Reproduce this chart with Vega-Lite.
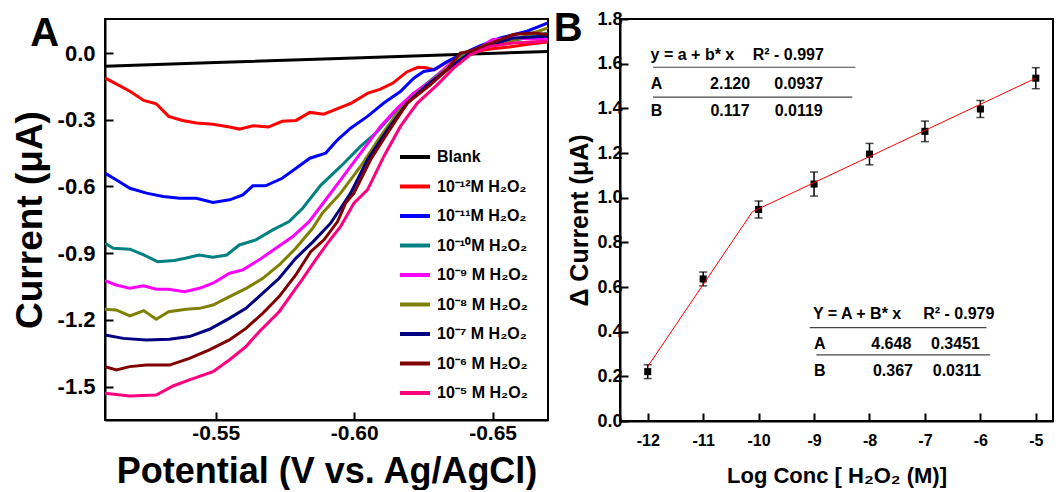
{
"$schema": "https://vega.github.io/schema/vega-lite/v6.json",
"padding": {"left": 10, "top": 8, "right": 0, "bottom": 0},
"background": "white",
"spacing": 3,
"config": {"font": "Liberation Sans", "view": {"stroke": "black", "strokeWidth": 2}},
"resolve": {"scale": {"color": "independent"}, "legend": {"color": "independent"}},
"datasets": {
"curves": [
{"s":"Blank","v":-0.51,"i":-0.06},{"s":"Blank","v":-0.55,"i":-0.043},{"s":"Blank","v":-0.6,"i":-0.022},{"s":"Blank","v":-0.64,"i":-0.006},{"s":"Blank","v":-0.67,"i":0.007},
{"s":"10⁻¹²M H₂O₂","v":-0.51,"i":-0.112},{"s":"10⁻¹²M H₂O₂","v":-0.519,"i":-0.172},{"s":"10⁻¹²M H₂O₂","v":-0.524,"i":-0.213},{"s":"10⁻¹²M H₂O₂","v":-0.5285,"i":-0.228},{"s":"10⁻¹²M H₂O₂","v":-0.533,"i":-0.285},{"s":"10⁻¹²M H₂O₂","v":-0.538,"i":-0.303},{"s":"10⁻¹²M H₂O₂","v":-0.543,"i":-0.315},{"s":"10⁻¹²M H₂O₂","v":-0.549,"i":-0.32},{"s":"10⁻¹²M H₂O₂","v":-0.555,"i":-0.333},{"s":"10⁻¹²M H₂O₂","v":-0.5585,"i":-0.342},{"s":"10⁻¹²M H₂O₂","v":-0.5635,"i":-0.327},{"s":"10⁻¹²M H₂O₂","v":-0.569,"i":-0.333},{"s":"10⁻¹²M H₂O₂","v":-0.574,"i":-0.307},{"s":"10⁻¹²M H₂O₂","v":-0.579,"i":-0.303},{"s":"10⁻¹²M H₂O₂","v":-0.584,"i":-0.267},{"s":"10⁻¹²M H₂O₂","v":-0.589,"i":-0.275},{"s":"10⁻¹²M H₂O₂","v":-0.594,"i":-0.25},{"s":"10⁻¹²M H₂O₂","v":-0.599,"i":-0.225},{"s":"10⁻¹²M H₂O₂","v":-0.605,"i":-0.18},{"s":"10⁻¹²M H₂O₂","v":-0.6095,"i":-0.162},{"s":"10⁻¹²M H₂O₂","v":-0.614,"i":-0.135},{"s":"10⁻¹²M H₂O₂","v":-0.619,"i":-0.085},{"s":"10⁻¹²M H₂O₂","v":-0.623,"i":-0.064},{"s":"10⁻¹²M H₂O₂","v":-0.626,"i":-0.066},{"s":"10⁻¹²M H₂O₂","v":-0.629,"i":-0.076},{"s":"10⁻¹²M H₂O₂","v":-0.633,"i":-0.045},{"s":"10⁻¹²M H₂O₂","v":-0.638,"i":-0.014},{"s":"10⁻¹²M H₂O₂","v":-0.643,"i":0.004},{"s":"10⁻¹²M H₂O₂","v":-0.649,"i":0.018},{"s":"10⁻¹²M H₂O₂","v":-0.656,"i":0.027},{"s":"10⁻¹²M H₂O₂","v":-0.6635,"i":0.04},{"s":"10⁻¹²M H₂O₂","v":-0.67,"i":0.05},
{"s":"10⁻¹¹M H₂O₂","v":-0.51,"i":-0.54},{"s":"10⁻¹¹M H₂O₂","v":-0.514,"i":-0.57},{"s":"10⁻¹¹M H₂O₂","v":-0.519,"i":-0.608},{"s":"10⁻¹¹M H₂O₂","v":-0.525,"i":-0.63},{"s":"10⁻¹¹M H₂O₂","v":-0.531,"i":-0.645},{"s":"10⁻¹¹M H₂O₂","v":-0.537,"i":-0.653},{"s":"10⁻¹¹M H₂O₂","v":-0.543,"i":-0.653},{"s":"10⁻¹¹M H₂O₂","v":-0.549,"i":-0.672},{"s":"10⁻¹¹M H₂O₂","v":-0.555,"i":-0.66},{"s":"10⁻¹¹M H₂O₂","v":-0.5598,"i":-0.638},{"s":"10⁻¹¹M H₂O₂","v":-0.5634,"i":-0.597},{"s":"10⁻¹¹M H₂O₂","v":-0.568,"i":-0.597},{"s":"10⁻¹¹M H₂O₂","v":-0.574,"i":-0.563},{"s":"10⁻¹¹M H₂O₂","v":-0.579,"i":-0.518},{"s":"10⁻¹¹M H₂O₂","v":-0.584,"i":-0.473},{"s":"10⁻¹¹M H₂O₂","v":-0.5897,"i":-0.45},{"s":"10⁻¹¹M H₂O₂","v":-0.594,"i":-0.39},{"s":"10⁻¹¹M H₂O₂","v":-0.5987,"i":-0.338},{"s":"10⁻¹¹M H₂O₂","v":-0.6048,"i":-0.285},{"s":"10⁻¹¹M H₂O₂","v":-0.6107,"i":-0.225},{"s":"10⁻¹¹M H₂O₂","v":-0.6167,"i":-0.173},{"s":"10⁻¹¹M H₂O₂","v":-0.6215,"i":-0.113},{"s":"10⁻¹¹M H₂O₂","v":-0.6251,"i":-0.083},{"s":"10⁻¹¹M H₂O₂","v":-0.6287,"i":-0.075},{"s":"10⁻¹¹M H₂O₂","v":-0.6336,"i":-0.038},{"s":"10⁻¹¹M H₂O₂","v":-0.6383,"i":-0.008},{"s":"10⁻¹¹M H₂O₂","v":-0.645,"i":0.03},{"s":"10⁻¹¹M H₂O₂","v":-0.6527,"i":0.068},{"s":"10⁻¹¹M H₂O₂","v":-0.6624,"i":0.098},{"s":"10⁻¹¹M H₂O₂","v":-0.67,"i":0.135},
{"s":"10⁻¹⁰M H₂O₂","v":-0.51,"i":-0.855},{"s":"10⁻¹⁰M H₂O₂","v":-0.513,"i":-0.878},{"s":"10⁻¹⁰M H₂O₂","v":-0.519,"i":-0.882},{"s":"10⁻¹⁰M H₂O₂","v":-0.524,"i":-0.908},{"s":"10⁻¹⁰M H₂O₂","v":-0.529,"i":-0.938},{"s":"10⁻¹⁰M H₂O₂","v":-0.535,"i":-0.933},{"s":"10⁻¹⁰M H₂O₂","v":-0.539,"i":-0.923},{"s":"10⁻¹⁰M H₂O₂","v":-0.544,"i":-0.908},{"s":"10⁻¹⁰M H₂O₂","v":-0.549,"i":-0.918},{"s":"10⁻¹⁰M H₂O₂","v":-0.554,"i":-0.908},{"s":"10⁻¹⁰M H₂O₂","v":-0.5585,"i":-0.863},{"s":"10⁻¹⁰M H₂O₂","v":-0.5645,"i":-0.84},{"s":"10⁻¹⁰M H₂O₂","v":-0.5706,"i":-0.795},{"s":"10⁻¹⁰M H₂O₂","v":-0.5765,"i":-0.758},{"s":"10⁻¹⁰M H₂O₂","v":-0.5814,"i":-0.698},{"s":"10⁻¹⁰M H₂O₂","v":-0.5879,"i":-0.595},{"s":"10⁻¹⁰M H₂O₂","v":-0.5951,"i":-0.51},{"s":"10⁻¹⁰M H₂O₂","v":-0.6023,"i":-0.42},{"s":"10⁻¹⁰M H₂O₂","v":-0.6084,"i":-0.353},{"s":"10⁻¹⁰M H₂O₂","v":-0.6143,"i":-0.27},{"s":"10⁻¹⁰M H₂O₂","v":-0.6203,"i":-0.195},{"s":"10⁻¹⁰M H₂O₂","v":-0.6264,"i":-0.135},{"s":"10⁻¹⁰M H₂O₂","v":-0.6323,"i":-0.075},{"s":"10⁻¹⁰M H₂O₂","v":-0.6383,"i":-0.015},{"s":"10⁻¹⁰M H₂O₂","v":-0.6444,"i":0.015},{"s":"10⁻¹⁰M H₂O₂","v":-0.6527,"i":0.045},{"s":"10⁻¹⁰M H₂O₂","v":-0.6624,"i":0.068},{"s":"10⁻¹⁰M H₂O₂","v":-0.67,"i":0.09},
{"s":"10⁻⁹ M H₂O₂","v":-0.51,"i":-1.023},{"s":"10⁻⁹ M H₂O₂","v":-0.514,"i":-1.043},{"s":"10⁻⁹ M H₂O₂","v":-0.519,"i":-1.058},{"s":"10⁻⁹ M H₂O₂","v":-0.524,"i":-1.047},{"s":"10⁻⁹ M H₂O₂","v":-0.5285,"i":-1.062},{"s":"10⁻⁹ M H₂O₂","v":-0.533,"i":-1.062},{"s":"10⁻⁹ M H₂O₂","v":-0.5387,"i":-1.073},{"s":"10⁻⁹ M H₂O₂","v":-0.5441,"i":-1.058},{"s":"10⁻⁹ M H₂O₂","v":-0.549,"i":-1.035},{"s":"10⁻⁹ M H₂O₂","v":-0.555,"i":-0.99},{"s":"10⁻⁹ M H₂O₂","v":-0.5598,"i":-0.975},{"s":"10⁻⁹ M H₂O₂","v":-0.5657,"i":-0.93},{"s":"10⁻⁹ M H₂O₂","v":-0.5717,"i":-0.878},{"s":"10⁻⁹ M H₂O₂","v":-0.5778,"i":-0.825},{"s":"10⁻⁹ M H₂O₂","v":-0.5837,"i":-0.758},{"s":"10⁻⁹ M H₂O₂","v":-0.5885,"i":-0.68},{"s":"10⁻⁹ M H₂O₂","v":-0.5951,"i":-0.57},{"s":"10⁻⁹ M H₂O₂","v":-0.6023,"i":-0.45},{"s":"10⁻⁹ M H₂O₂","v":-0.6095,"i":-0.33},{"s":"10⁻⁹ M H₂O₂","v":-0.6156,"i":-0.248},{"s":"10⁻⁹ M H₂O₂","v":-0.6215,"i":-0.18},{"s":"10⁻⁹ M H₂O₂","v":-0.6275,"i":-0.128},{"s":"10⁻⁹ M H₂O₂","v":-0.6336,"i":-0.06},{"s":"10⁻⁹ M H₂O₂","v":-0.6395,"i":-0.015},{"s":"10⁻⁹ M H₂O₂","v":-0.6444,"i":0.015},{"s":"10⁻⁹ M H₂O₂","v":-0.6498,"i":0.06},{"s":"10⁻⁹ M H₂O₂","v":-0.6575,"i":0.068},{"s":"10⁻⁹ M H₂O₂","v":-0.67,"i":0.06},
{"s":"10⁻⁸ M H₂O₂","v":-0.51,"i":-1.152},{"s":"10⁻⁸ M H₂O₂","v":-0.514,"i":-1.155},{"s":"10⁻⁸ M H₂O₂","v":-0.519,"i":-1.182},{"s":"10⁻⁸ M H₂O₂","v":-0.524,"i":-1.158},{"s":"10⁻⁸ M H₂O₂","v":-0.5285,"i":-1.197},{"s":"10⁻⁸ M H₂O₂","v":-0.533,"i":-1.163},{"s":"10⁻⁸ M H₂O₂","v":-0.5393,"i":-1.152},{"s":"10⁻⁸ M H₂O₂","v":-0.5441,"i":-1.148},{"s":"10⁻⁸ M H₂O₂","v":-0.549,"i":-1.133},{"s":"10⁻⁸ M H₂O₂","v":-0.555,"i":-1.095},{"s":"10⁻⁸ M H₂O₂","v":-0.561,"i":-1.058},{"s":"10⁻⁸ M H₂O₂","v":-0.567,"i":-1.013},{"s":"10⁻⁸ M H₂O₂","v":-0.5729,"i":-0.953},{"s":"10⁻⁸ M H₂O₂","v":-0.5789,"i":-0.878},{"s":"10⁻⁸ M H₂O₂","v":-0.585,"i":-0.788},{"s":"10⁻⁸ M H₂O₂","v":-0.5885,"i":-0.72},{"s":"10⁻⁸ M H₂O₂","v":-0.5951,"i":-0.63},{"s":"10⁻⁸ M H₂O₂","v":-0.6023,"i":-0.51},{"s":"10⁻⁸ M H₂O₂","v":-0.6095,"i":-0.375},{"s":"10⁻⁸ M H₂O₂","v":-0.6156,"i":-0.27},{"s":"10⁻⁸ M H₂O₂","v":-0.6215,"i":-0.195},{"s":"10⁻⁸ M H₂O₂","v":-0.6287,"i":-0.12},{"s":"10⁻⁸ M H₂O₂","v":-0.6359,"i":-0.045},{"s":"10⁻⁸ M H₂O₂","v":-0.6419,"i":0.008},{"s":"10⁻⁸ M H₂O₂","v":-0.648,"i":0.038},{"s":"10⁻⁸ M H₂O₂","v":-0.6552,"i":0.045},{"s":"10⁻⁸ M H₂O₂","v":-0.6647,"i":0.09},{"s":"10⁻⁸ M H₂O₂","v":-0.67,"i":0.113},
{"s":"10⁻⁷ M H₂O₂","v":-0.51,"i":-1.268},{"s":"10⁻⁷ M H₂O₂","v":-0.5166,"i":-1.283},{"s":"10⁻⁷ M H₂O₂","v":-0.5249,"i":-1.29},{"s":"10⁻⁷ M H₂O₂","v":-0.5333,"i":-1.287},{"s":"10⁻⁷ M H₂O₂","v":-0.5405,"i":-1.275},{"s":"10⁻⁷ M H₂O₂","v":-0.5477,"i":-1.242},{"s":"10⁻⁷ M H₂O₂","v":-0.5549,"i":-1.193},{"s":"10⁻⁷ M H₂O₂","v":-0.5609,"i":-1.148},{"s":"10⁻⁷ M H₂O₂","v":-0.567,"i":-1.08},{"s":"10⁻⁷ M H₂O₂","v":-0.5729,"i":-1.013},{"s":"10⁻⁷ M H₂O₂","v":-0.5789,"i":-0.923},{"s":"10⁻⁷ M H₂O₂","v":-0.585,"i":-0.85},{"s":"10⁻⁷ M H₂O₂","v":-0.5915,"i":-0.765},{"s":"10⁻⁷ M H₂O₂","v":-0.5951,"i":-0.698},{"s":"10⁻⁷ M H₂O₂","v":-0.5987,"i":-0.63},{"s":"10⁻⁷ M H₂O₂","v":-0.6048,"i":-0.48},{"s":"10⁻⁷ M H₂O₂","v":-0.612,"i":-0.345},{"s":"10⁻⁷ M H₂O₂","v":-0.6192,"i":-0.225},{"s":"10⁻⁷ M H₂O₂","v":-0.6264,"i":-0.143},{"s":"10⁻⁷ M H₂O₂","v":-0.6336,"i":-0.075},{"s":"10⁻⁷ M H₂O₂","v":-0.6408,"i":-0.008},{"s":"10⁻⁷ M H₂O₂","v":-0.648,"i":0.03},{"s":"10⁻⁷ M H₂O₂","v":-0.6575,"i":0.068},{"s":"10⁻⁷ M H₂O₂","v":-0.67,"i":0.075},
{"s":"10⁻⁶ M H₂O₂","v":-0.51,"i":-1.41},{"s":"10⁻⁶ M H₂O₂","v":-0.5141,"i":-1.425},{"s":"10⁻⁶ M H₂O₂","v":-0.5189,"i":-1.41},{"s":"10⁻⁶ M H₂O₂","v":-0.5249,"i":-1.403},{"s":"10⁻⁶ M H₂O₂","v":-0.5333,"i":-1.403},{"s":"10⁻⁶ M H₂O₂","v":-0.5405,"i":-1.373},{"s":"10⁻⁶ M H₂O₂","v":-0.5477,"i":-1.335},{"s":"10⁻⁶ M H₂O₂","v":-0.5549,"i":-1.29},{"s":"10⁻⁶ M H₂O₂","v":-0.5609,"i":-1.238},{"s":"10⁻⁶ M H₂O₂","v":-0.567,"i":-1.17},{"s":"10⁻⁶ M H₂O₂","v":-0.5729,"i":-1.095},{"s":"10⁻⁶ M H₂O₂","v":-0.5789,"i":-0.998},{"s":"10⁻⁶ M H₂O₂","v":-0.5843,"i":-0.893},{"s":"10⁻⁶ M H₂O₂","v":-0.5891,"i":-0.84},{"s":"10⁻⁶ M H₂O₂","v":-0.594,"i":-0.758},{"s":"10⁻⁶ M H₂O₂","v":-0.5969,"i":-0.675},{"s":"10⁻⁶ M H₂O₂","v":-0.5999,"i":-0.63},{"s":"10⁻⁶ M H₂O₂","v":-0.6059,"i":-0.48},{"s":"10⁻⁶ M H₂O₂","v":-0.612,"i":-0.36},{"s":"10⁻⁶ M H₂O₂","v":-0.6192,"i":-0.225},{"s":"10⁻⁶ M H₂O₂","v":-0.6275,"i":-0.143},{"s":"10⁻⁶ M H₂O₂","v":-0.6336,"i":-0.075},{"s":"10⁻⁶ M H₂O₂","v":-0.6383,"i":0.0},{"s":"10⁻⁶ M H₂O₂","v":-0.6419,"i":0.008},{"s":"10⁻⁶ M H₂O₂","v":-0.648,"i":0.038},{"s":"10⁻⁶ M H₂O₂","v":-0.6575,"i":0.083},{"s":"10⁻⁶ M H₂O₂","v":-0.6647,"i":0.09},{"s":"10⁻⁶ M H₂O₂","v":-0.67,"i":0.083},
{"s":"10⁻⁵ M H₂O₂","v":-0.51,"i":-1.53},{"s":"10⁻⁵ M H₂O₂","v":-0.5189,"i":-1.542},{"s":"10⁻⁵ M H₂O₂","v":-0.5285,"i":-1.538},{"s":"10⁻⁵ M H₂O₂","v":-0.5346,"i":-1.497},{"s":"10⁻⁵ M H₂O₂","v":-0.5405,"i":-1.47},{"s":"10⁻⁵ M H₂O₂","v":-0.549,"i":-1.433},{"s":"10⁻⁵ M H₂O₂","v":-0.5549,"i":-1.38},{"s":"10⁻⁵ M H₂O₂","v":-0.5609,"i":-1.32},{"s":"10⁻⁵ M H₂O₂","v":-0.5657,"i":-1.253},{"s":"10⁻⁵ M H₂O₂","v":-0.5729,"i":-1.163},{"s":"10⁻⁵ M H₂O₂","v":-0.5789,"i":-1.058},{"s":"10⁻⁵ M H₂O₂","v":-0.5807,"i":-1.028},{"s":"10⁻⁵ M H₂O₂","v":-0.5856,"i":-0.938},{"s":"10⁻⁵ M H₂O₂","v":-0.5904,"i":-0.855},{"s":"10⁻⁵ M H₂O₂","v":-0.5951,"i":-0.78},{"s":"10⁻⁵ M H₂O₂","v":-0.5999,"i":-0.675},{"s":"10⁻⁵ M H₂O₂","v":-0.6048,"i":-0.615},{"s":"10⁻⁵ M H₂O₂","v":-0.6107,"i":-0.465},{"s":"10⁻⁵ M H₂O₂","v":-0.6167,"i":-0.33},{"s":"10⁻⁵ M H₂O₂","v":-0.6228,"i":-0.225},{"s":"10⁻⁵ M H₂O₂","v":-0.63,"i":-0.143},{"s":"10⁻⁵ M H₂O₂","v":-0.6359,"i":-0.068},{"s":"10⁻⁵ M H₂O₂","v":-0.6419,"i":-0.008},{"s":"10⁻⁵ M H₂O₂","v":-0.6491,"i":0.03},{"s":"10⁻⁵ M H₂O₂","v":-0.6575,"i":0.045},{"s":"10⁻⁵ M H₂O₂","v":-0.67,"i":0.053}
],
"letterA": [{"v": -0.4882, "i": 0.0855, "t": "A"}],
"letterB": [{"x": -13.434, "y": 1.755, "t": "B"}],
"pts": [
{"x":-12,"y":0.221,"e":0.031},{"x":-11,"y":0.636,"e":0.031},{"x":-10,"y":0.947,"e":0.038},{"x":-9,"y":1.061,"e":0.054},{"x":-8,"y":1.195,"e":0.048},{"x":-7,"y":1.297,"e":0.046},{"x":-6,"y":1.397,"e":0.038},{"x":-5,"y":1.535,"e":0.047}
],
"fit": [{"x":-12,"y":0.244},{"x":-10.112,"y":0.937},{"x":-5,"y":1.535}],
"tab": [
{"x":-11.194,"y":1.637,"t":"y = a + b* x"},{"x":-9.465,"y":1.637,"t":"R² - 0.997"},
{"x":-11.84,"y":1.509,"t":"A"},{"x":-10.515,"y":1.509,"t":"2.120"},{"x":-9.276,"y":1.509,"t":"0.0937"},
{"x":-11.84,"y":1.386,"t":"B"},{"x":-10.515,"y":1.386,"t":"0.117"},{"x":-9.276,"y":1.386,"t":"0.0119"},
{"x":-8.224,"y":0.478,"t":"Y = A + B* x"},{"x":-6.389,"y":0.478,"t":"R² - 0.979"},
{"x":-8.897,"y":0.347,"t":"A"},{"x":-7.607,"y":0.347,"t":"4.648"},{"x":-6.449,"y":0.347,"t":"0.3451"},
{"x":-8.897,"y":0.224,"t":"B"},{"x":-7.577,"y":0.224,"t":"0.367"},{"x":-6.425,"y":0.224,"t":"0.0311"}
],
"rules": [
{"x":-11.904,"x2":-8.253,"y":1.584},{"x":-11.904,"x2":-8.31,"y":1.4505},
{"x":-9.077,"x2":-5.89,"y":0.4185},{"x":-8.957,"x2":-5.824,"y":0.296}
]
},
"hconcat": [
{
"width": 443, "height": 401,
"layer": [
{"data": {"name": "curves"},
 "mark": {"type": "line", "strokeWidth": 3, "clip": true},
 "encoding": {
  "x": {"field": "v", "type": "quantitative",
        "scale": {"domain": [-0.67, -0.51], "reverse": true, "nice": false, "zero": false},
        "axis": {"values": [-0.55, -0.6, -0.65], "labelExpr": "replace(format(datum.value, '.2f'), '−', '-')",
                 "title": "Potential (V vs. Ag/AgCl)", "grid": false, "labelFlush": false, "labelOverlap": false,
                 "labelFontSize": 21, "labelFontWeight": "bold", "labelColor": "black", "labelPadding": 10,
                 "titleFontSize": 36, "titleFontWeight": "bold", "titleColor": "black", "titlePadding": 11,
                 "tickSize": -8, "tickWidth": 2, "tickColor": "black", "domainColor": "black", "domainWidth": 2}},
  "y": {"field": "i", "type": "quantitative",
        "scale": {"domain": [-1.65, 0.153], "nice": false, "zero": false},
        "axis": {"values": [0, -0.3, -0.6, -0.9, -1.2, -1.5], "labelExpr": "replace(format(datum.value, '.1f'), '−', '-')",
                 "title": "Current (μA)", "grid": false, "labelFlush": false, "labelOverlap": false,
                 "labelFontSize": 22, "labelFontWeight": "bold", "labelColor": "black", "labelPadding": 18,
                 "titleFontSize": 37, "titleFontWeight": "bold", "titleColor": "black", "titlePadding": 8,
                 "tickSize": -8, "tickWidth": 2, "tickColor": "black", "domainColor": "black", "domainWidth": 2}},
  "color": {"field": "s", "type": "nominal",
        "scale": {"domain": ["Blank","10⁻¹²M H₂O₂","10⁻¹¹M H₂O₂","10⁻¹⁰M H₂O₂","10⁻⁹ M H₂O₂","10⁻⁸ M H₂O₂","10⁻⁷ M H₂O₂","10⁻⁶ M H₂O₂","10⁻⁵ M H₂O₂"],
                  "range": ["#000000","#ff0000","#0000ff","#008080","#ff00ff","#808000","#000080","#800000","#ff0080"]},
        "legend": {"orient": "none", "legendX": 293, "legendY": 121, "title": null, "symbolType": "stroke",
                   "symbolSize": 900, "symbolStrokeWidth": 4, "labelFontSize": 16, "labelFontWeight": "bold",
                   "labelColor": "black", "rowPadding": 4.5, "labelOffset": 5, "padding": 0, "labelLimit": 300}}
 }},
{"data": {"name": "letterA"},
 "mark": {"type": "text", "fontSize": 40, "fontWeight": "bold", "color": "black", "align": "center", "baseline": "middle"},
 "encoding": {"x": {"field": "v", "type": "quantitative"}, "y": {"field": "i", "type": "quantitative"}, "text": {"field": "t"}}}
]
},
{
"width": 433, "height": 402,
"layer": [
{"data": {"name": "pts"},
 "mark": {"type": "point", "shape": "square", "filled": true, "size": 50, "color": "black", "opacity": 1},
 "encoding": {
  "x": {"field": "x", "type": "quantitative", "title": "Log Conc [ H₂O₂ (M)]",
        "scale": {"domain": [-12.5, -4.69], "nice": false, "zero": false},
        "axis": {"values": [-12,-11,-10,-9,-8,-7,-6,-5], "labelExpr": "replace(format(datum.value, 'd'), '−', '-')",
                 "title": "Log Conc [ H₂O₂ (M)]", "grid": false, "labelFlush": false, "labelOverlap": false,
                 "labelFontSize": 16, "labelFontWeight": "bold", "labelColor": "black", "labelPadding": 19,
                 "titleFontSize": 22, "titleFontWeight": "bold", "titleColor": "black", "titlePadding": 17,
                 "tickSize": -8, "tickWidth": 2, "tickColor": "black", "domainColor": "black", "domainWidth": 2}},
  "y": {"field": "y", "type": "quantitative", "title": "Δ Current (μA)",
        "scale": {"domain": [0, 1.8], "nice": false, "zero": false},
        "axis": {"values": [0,0.2,0.4,0.6,0.8,1.0,1.2,1.4,1.6,1.8], "format": ".1f",
                 "title": "Δ Current (μA)", "grid": false, "labelFlush": false, "labelOverlap": false,
                 "labelFontSize": 18, "labelFontWeight": "bold", "labelColor": "black", "labelPadding": 6,
                 "titleFontSize": 25, "titleFontWeight": "bold", "titleColor": "black", "titlePadding": 4,
                 "tickSize": -8, "tickWidth": 2, "tickColor": "black", "domainColor": "black", "domainWidth": 2}}
 }},
{"data": {"name": "pts"},
 "mark": {"type": "errorbar", "ticks": true, "thickness": 1.5, "color": "black", "size": 8},
 "encoding": {"x": {"field": "x", "type": "quantitative", "title": "Log Conc [ H₂O₂ (M)]"}, "y": {"field": "y", "type": "quantitative", "title": "Δ Current (μA)"}, "yError": {"field": "e"}}},
{"data": {"name": "fit"},
 "mark": {"type": "line", "color": "#ff0000", "strokeWidth": 1},
 "encoding": {"x": {"field": "x", "type": "quantitative"}, "y": {"field": "y", "type": "quantitative"}}},
{"data": {"name": "rules"},
 "mark": {"type": "rule", "color": "#444444", "strokeWidth": 1.2},
 "encoding": {"x": {"field": "x", "type": "quantitative"}, "x2": {"field": "x2"}, "y": {"field": "y", "type": "quantitative"}}},
{"data": {"name": "tab"},
 "mark": {"type": "text", "fontSize": 16, "fontWeight": "bold", "color": "black", "align": "center", "baseline": "middle"},
 "encoding": {"x": {"field": "x", "type": "quantitative"}, "y": {"field": "y", "type": "quantitative"}, "text": {"field": "t"}}},
{"data": {"name": "letterB"},
 "mark": {"type": "text", "fontSize": 40, "fontWeight": "bold", "color": "black", "align": "center", "baseline": "middle"},
 "encoding": {"x": {"field": "x", "type": "quantitative"}, "y": {"field": "y", "type": "quantitative"}, "text": {"field": "t"}}}
]
}
]
}
